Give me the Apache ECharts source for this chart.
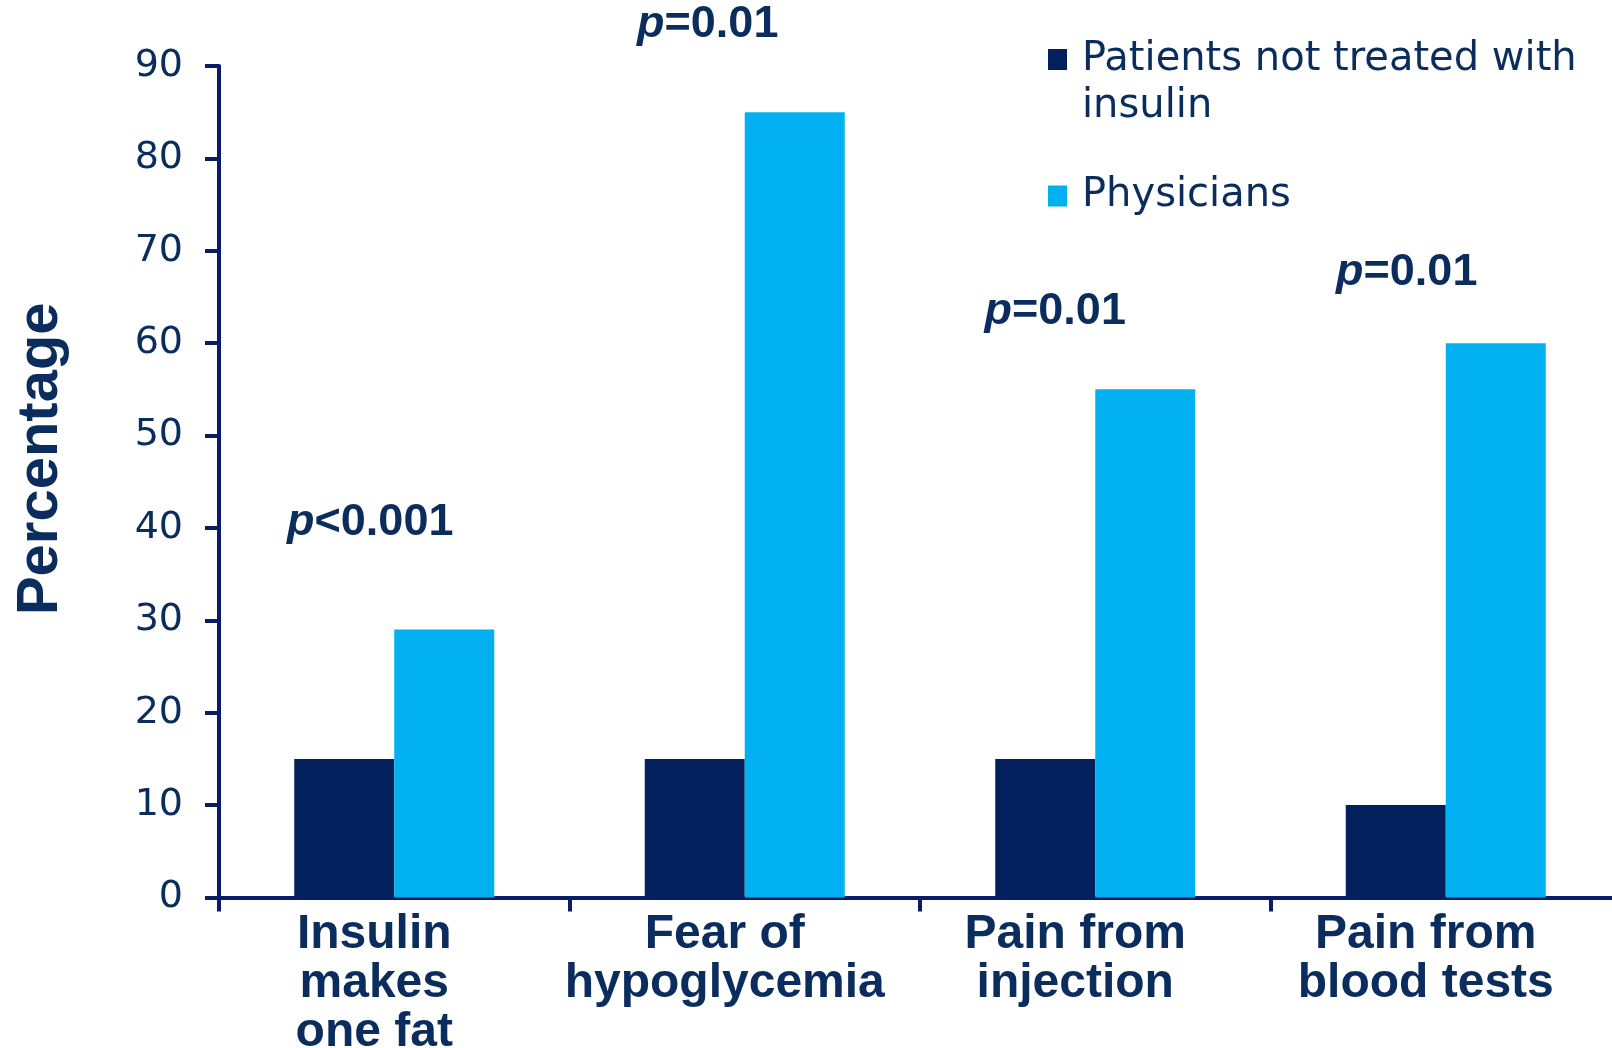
<!DOCTYPE html>
<html>
<head>
<meta charset="utf-8">
<title>Perceived barriers to insulin</title>
<script src="https://cdn.jsdelivr.net/npm/echarts@6/dist/echarts.min.js"></script>
<style>
  html, body { margin: 0; padding: 0; background: #ffffff; }
  #chart { width: 1612px; height: 1048px; }
</style>
</head>
<body>
<div id="chart"></div>
<script>
// Survey categories (x axis)
const categories = [
  'Insulin\nmakes\none fat',
  'Fear of\nhypoglycemia',
  'Pain from\ninjection',
  'Pain from\nblood tests'
];

// Series names
const seriesNames = ['Patients not treated with\ninsulin', 'Physicians'];

// Percentages per group
const patientValues = [15, 15, 15, 10];
const physicianValues = [29, 85, 55, 60];

// Significance annotations shown above each group
const pValueOps = ['<', '=', '=', '='];
const pValueNums = ['0.001', '0.01', '0.01', '0.01'];

// Y axis ticks
const yMin = 0;
const yMax = 90;
const yStep = 10;

// ---- styling ----
const NAVY = '#02205c';
const CYAN = '#00b0f0';
const AXIS = '#0a1c68';
const TEXT = '#0b2d5e';

// where each p-value label sits relative to the top of the physician bar
const pLabelOffsets = [[-74, -107], [-87, -88], [-90, -78], [-89, -71]];

// legend swatches: a 19x21 square placed inside a taller box so it can sit
// beside the first line of a wrapped name, or centred on a single line
const SWATCH_TOP = 'path://M0,13H19V34H0Z M0,0 M0,94';
const SWATCH_MID = 'path://M0,36.5H19V57.5H0Z M0,0 M0,94';

const chart = echarts.init(document.getElementById('chart'), null, { renderer: 'canvas' });

const physicianData = physicianValues.map((v, i) => ({
  value: v,
  label: {
    show: true,
    position: ['50%', 0],
    align: 'center',
    verticalAlign: 'middle',
    offset: pLabelOffsets[i],
    formatter: '{i|p}{n|' + pValueOps[i] + pValueNums[i] + '}',
    rich: {
      i: { fontFamily: 'Liberation Sans', fontWeight: 'bold', fontStyle: 'italic', fontSize: 45, color: TEXT },
      n: { fontFamily: 'Liberation Sans', fontWeight: 'bold', fontSize: 45, color: TEXT }
    }
  }
}));

const option = {
  backgroundColor: '#ffffff',
  animation: false,
  grid: {
    left: 219, top: 66, bottom: 150.5, width: 1402,
    containLabel: false,
    outerBoundsMode: 'none'
  },
  legend: {
    orient: 'vertical',
    left: 1043,
    top: 31,
    itemWidth: 19,
    itemHeight: 94,
    itemGap: 19,
    textStyle: {
      fontFamily: 'DejaVu Sans',
      fontSize: 40,
      color: TEXT,
      lineHeight: 47,
      padding: [0, 0, 0, 10]
    },
    data: [
      { name: seriesNames[0], icon: SWATCH_TOP },
      { name: seriesNames[1], icon: SWATCH_MID }
    ]
  },
  xAxis: {
    type: 'category',
    data: categories,
    boundaryGap: true,
    axisLine: { show: true, lineStyle: { color: AXIS, width: 4 } },
    axisTick: { show: true, length: 14, lineStyle: { color: AXIS, width: 4 } },
    axisLabel: {
      interval: 0,
      margin: 13,
      fontFamily: 'Liberation Sans',
      fontWeight: 'bold',
      fontSize: 48,
      lineHeight: 49,
      color: TEXT,
      padding: [0, 40, 0, 0]
    },
    splitLine: { show: false }
  },
  yAxis: {
    type: 'value',
    min: yMin,
    max: yMax,
    interval: yStep,
    name: 'Percentage',
    nameLocation: 'middle',
    nameGap: 149,
    nameRotate: 90,
    nameTextStyle: {
      fontFamily: 'Liberation Sans',
      fontWeight: 'bold',
      fontSize: 58,
      color: TEXT,
      padding: [0, 0, 0, 46]
    },
    axisLine: { show: true, lineStyle: { color: AXIS, width: 4 } },
    axisTick: { show: true, length: 14, lineStyle: { color: AXIS, width: 4 } },
    axisLabel: {
      margin: 36,
      fontFamily: 'DejaVu Sans',
      fontSize: 38,
      color: TEXT
    },
    splitLine: { show: false }
  },
  series: [
    {
      name: seriesNames[0],
      type: 'bar',
      data: patientValues,
      barWidth: 100,
      barGap: '0%',
      itemStyle: { color: NAVY },
      z: 1
    },
    {
      name: seriesNames[1],
      type: 'bar',
      data: physicianData,
      barWidth: 100,
      barGap: '0%',
      itemStyle: { color: CYAN },
      z: 1
    }
  ]
};

chart.setOption(option);
</script>
</body>
</html>
